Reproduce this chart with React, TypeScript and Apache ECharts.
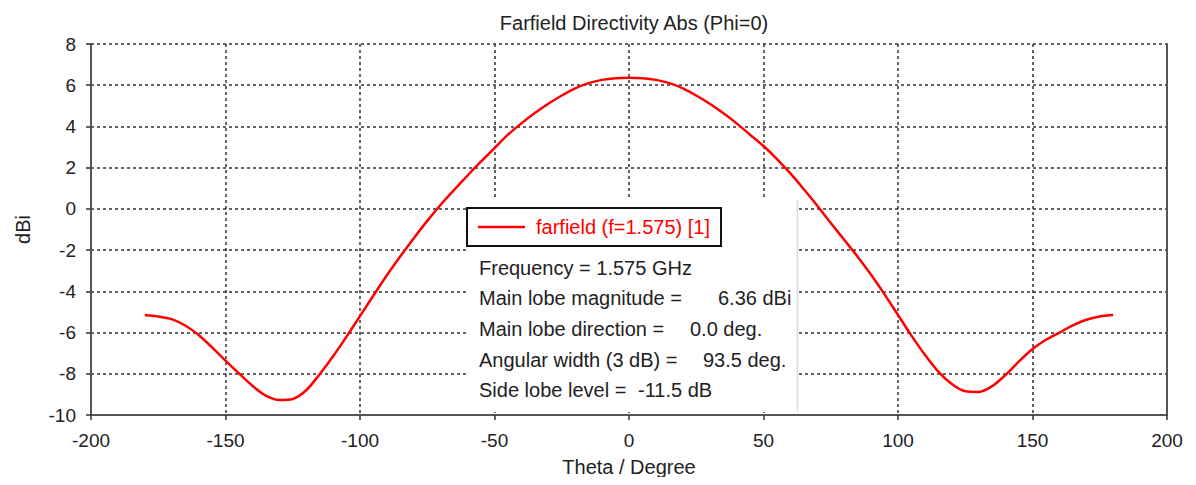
import React, { useEffect, useRef } from "react";
import * as echarts from "echarts";

const thetaDeg = [
  -180, -175, -170, -165, -160, -155, -150, -145, -140, -135, -130, -125, -120, -115, -110, -105,
  -100, -95, -90, -85, -80, -75, -70, -65, -60, -55, -50, -45, -40, -35, -30, -25, -20, -15, -10, -5,
  0, 5, 10, 15, 20, 25, 30, 35, 40, 45, 50, 55, 60, 65, 70, 75, 80, 85, 90, 95, 100, 105, 110, 115,
  120, 125, 130, 135, 140, 145, 150, 155, 160, 165, 170, 175, 180,
];
const directivity = [
  -5.15, -5.22, -5.35, -5.66, -6.12, -6.72, -7.36, -7.98, -8.58, -9.06, -9.27, -9.22, -8.8, -8.02, -7.15, -6.2,
  -5.2, -4.2, -3.22, -2.3, -1.42, -0.58, 0.2, 0.92, 1.62, 2.3, 2.95, 3.6, 4.15, 4.65, 5.1, 5.5, 5.85, 6.1, 6.26, 6.34,
  6.36, 6.34, 6.26, 6.1, 5.85, 5.5, 5.1, 4.65, 4.15, 3.6, 3.05, 2.42, 1.72, 0.95, 0.15, -0.68, -1.5, -2.32, -3.2, -4.15,
  -5.15, -6.15, -7.08, -7.9, -8.5, -8.85, -8.88, -8.6, -8.05, -7.4, -6.8, -6.35, -6.0, -5.65, -5.38, -5.22, -5.15,
];
const seriesName = "farfield (f=1.575) [1]";
const chartTitle = "Farfield Directivity Abs (Phi=0)";
const infoLabels = [
  "Frequency = 1.575 GHz",
  "Main lobe magnitude =",
  "Main lobe direction =",
  "Angular width (3 dB) =",
  "Side lobe level =",
];
const infoValues = ["", "6.36 dBi", "0.0 deg.", "93.5 deg.", "-11.5 dB"];

const FONT = "'Liberation Sans', Arial, sans-serif";

export default function App() {
  const ref = useRef<HTMLDivElement>(null);
  useEffect(() => {
    if (!ref.current) return;
    const chart = echarts.init(ref.current, undefined, { renderer: "svg" });
    const valueX = [538, 718, 690, 703, 638];
    const rowY = [268, 298, 329, 360, 390];
    const infoTexts: any[] = [];
    infoLabels.forEach((t, i) => {
      infoTexts.push({
        type: "text",
        z: 150,
        style: { text: t, x: 479, y: rowY[i], fill: "#222", font: `20px ${FONT}`, verticalAlign: "middle" },
      });
      if (infoValues[i]) {
        infoTexts.push({
          type: "text",
          z: 150,
          style: { text: infoValues[i], x: valueX[i], y: rowY[i], fill: "#222", font: `20px ${FONT}`, verticalAlign: "middle" },
        });
      }
    });
    const gridLine = { show: true, lineStyle: { color: "#333", width: 1.5, type: [3, 3] as any } };
    chart.setOption({
      animation: false,
      backgroundColor: "#fff",
      title: {
        text: chartTitle,
        left: 629,
        top: 8,
        textAlign: "center",
        textStyle: { fontFamily: FONT, fontSize: 20, fontWeight: "normal", color: "#222" },
      },
      grid: { left: 91, right: 29, top: 44, bottom: 70, containLabel: false },
      legend: {
        show: true,
        z: 200,
        left: 467,
        top: 208,
        data: [{ name: seriesName, icon: "rect" }],
        backgroundColor: "#fff",
        borderColor: "#111",
        borderWidth: 2,
        borderRadius: 0,
        padding: [9, 11, 9, 11],
        itemWidth: 47,
        itemHeight: 2.5,
        textStyle: { color: "#ff0000", fontFamily: FONT, fontSize: 20, padding: [0, 0, 0, 6] },
      },
      xAxis: {
        type: "value",
        min: -200,
        max: 200,
        interval: 50,
        name: "Theta / Degree",
        nameLocation: "middle",
        nameGap: 42,
        nameTextStyle: { fontFamily: FONT, fontSize: 20, color: "#222" },
        axisLine: { show: true, onZero: false, lineStyle: { color: "#555", width: 2 } },
        axisTick: { show: true, length: 5, lineStyle: { color: "#333", width: 1.5 } },
        axisLabel: { fontFamily: FONT, fontSize: 19, color: "#222", margin: 16 },
        splitLine: gridLine,
      },
      yAxis: [
        {
          type: "value",
          min: -10,
          max: 8,
          interval: 2,
          name: "dBi",
          nameLocation: "middle",
          nameGap: 58,
          nameRotate: 90,
          nameTextStyle: { fontFamily: FONT, fontSize: 20, color: "#222" },
          axisLine: { show: true, onZero: false, lineStyle: { color: "#555", width: 2 } },
          axisTick: { show: true, length: 5, lineStyle: { color: "#333", width: 1.5 } },
          axisLabel: { fontFamily: FONT, fontSize: 19, color: "#222", margin: 15 },
          splitLine: gridLine,
        },
        {
          type: "value",
          min: -10,
          max: 8,
          interval: 2,
          position: "right",
          axisLine: { show: true, onZero: false, lineStyle: { color: "#555", width: 2 } },
          axisTick: { show: false },
          axisLabel: { show: false },
          splitLine: { show: false },
        },
      ],
      series: [
        {
          name: seriesName,
          type: "line",
          data: thetaDeg.map((t, i) => [t, directivity[i]]),
          showSymbol: false,
          symbol: "none",
          smooth: 0.3,
          lineStyle: { color: "#ff0000", width: 2.5 },
          itemStyle: { color: "#ff0000" },
          z: 3,
        },
      ],
      graphic: [
        {
          type: "rect",
          z: 100,
          shape: { x: 466, y: 200, width: 331, height: 212 },
          style: { fill: "#fff" },
        },
        {
          type: "line",
          z: 101,
          shape: { x1: 797.5, y1: 200, x2: 797.5, y2: 412 },
          style: { stroke: "#ddd", lineWidth: 1.5 },
        },
        ...infoTexts,
      ],
    });
    return () => chart.dispose();
  }, []);
  return <div ref={ref} style={{ width: 1196, height: 485, margin: -8 }} />;
}
